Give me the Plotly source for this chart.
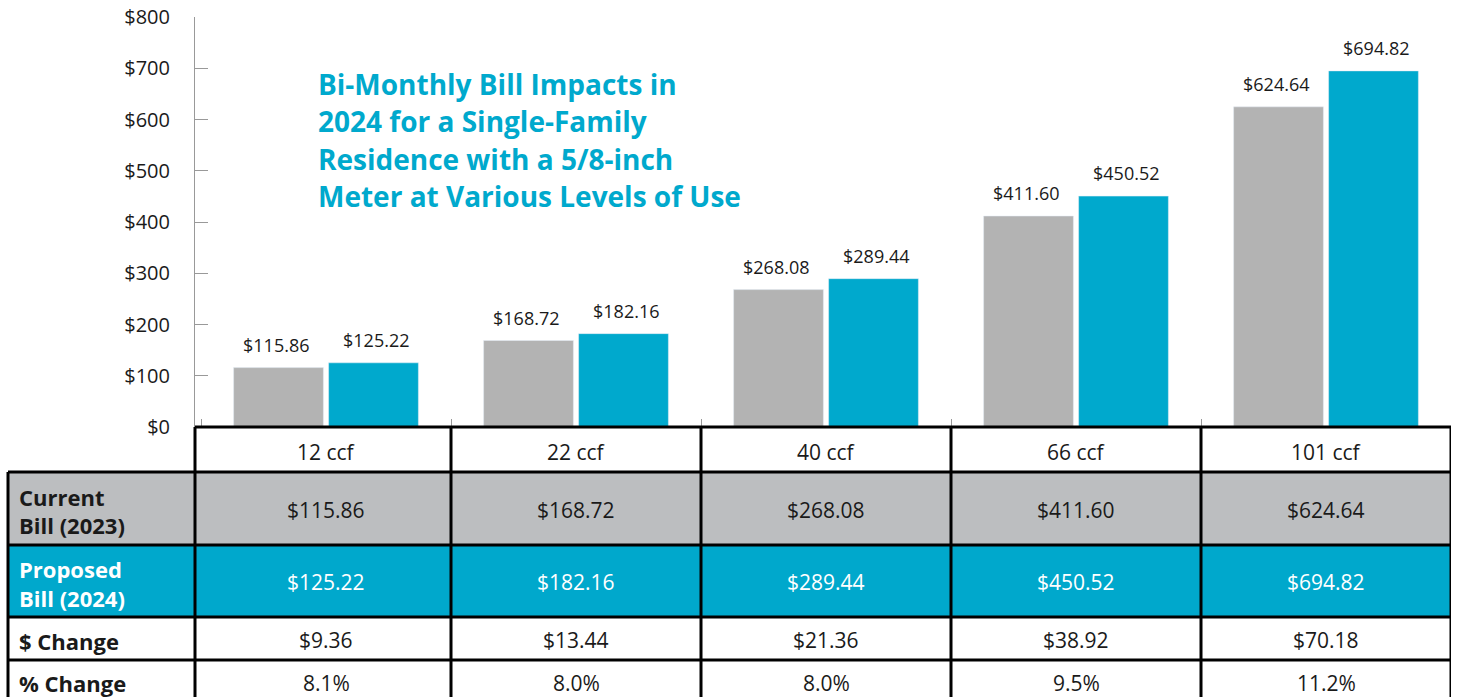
import plotly.graph_objects as go

# ---------------- data ----------------
categories = ["12 ccf", "22 ccf", "40 ccf", "66 ccf", "101 ccf"]
current_bill = [115.86, 168.72, 268.08, 411.60, 624.64]
proposed_bill = [125.22, 182.16, 289.44, 450.52, 694.82]
dollar_change = [9.36, 13.44, 21.36, 38.92, 70.18]
pct_change = [8.1, 8.0, 8.0, 9.5, 11.2]
row_labels = [["Current", "Bill (2023)"], ["Proposed", "Bill (2024)"], ["$ Change"], ["% Change"]]
title_lines = ["Bi-Monthly Bill Impacts in", "2024 for a Single-Family",
               "Residence with a 5/8-inch", "Meter at Various Levels of Use"]
y_ticks = [0, 100, 200, 300, 400, 500, 600, 700, 800]
y_tick_text = ["$0", "$100", "$200", "$300", "$400", "$500", "$600", "$700", "$800"]

# ---------------- style ----------------
W, H = 1459, 697
PL, PR, PT, PB = 195, 1451, 17, 427   # plot area in page pixels
FONT = "Open Sans"
GRAY_BAR = "#b3b3b3"
TEAL = "#00a9cd"
GRAY_ROW = "#bcbec0"
TEAL_ROW = "#00a8cc"
TXT = "#1a1a1a"


def px(X):
    return (X - PL) / (PR - PL)


def py(Y):
    return (PB - Y) / (PB - PT)


fig = go.Figure()
fig.add_trace(go.Bar(x=categories, y=current_bill, marker_color=GRAY_BAR,
                     name="Current Bill (2023)"))
fig.add_trace(go.Bar(x=categories, y=proposed_bill, marker_color=TEAL,
                     name="Proposed Bill (2024)"))

shapes = []
annotations = []

# bar value labels
for c, v1, v2 in zip(categories, current_bill, proposed_bill):
    for v, xs in ((v1, -50), (v2, 50)):
        annotations.append(dict(x=c, y=v, xref="x", yref="y", text=f"${v:,.2f}",
                                showarrow=False, xshift=xs, yshift=23, yanchor="middle",
                                font=dict(family=FONT, size=18, color=TXT)))

# table rows (page pixel y)
row_tops = [427, 472, 545, 617, 660]
row_bots = [472, 545, 617, 660, 720]
fills = [None, GRAY_ROW, TEAL_ROW, None, None]
TL = 8  # left edge of table

for i in range(1, 5):
    if fills[i]:
        shapes.append(dict(type="rect", xref="paper", yref="paper",
                           x0=px(TL), x1=px(PR), y0=py(row_bots[i]), y1=py(row_tops[i]),
                           fillcolor=fills[i], line_width=0, layer="below"))

LW = 3
shapes.append(dict(type="line", xref="paper", yref="paper", x0=px(PL), x1=px(PR),
                   y0=py(427), y1=py(427), line=dict(color="black", width=LW)))
for Y in [472, 545, 617, 660]:
    shapes.append(dict(type="line", xref="paper", yref="paper", x0=px(TL), x1=px(PR),
                       y0=py(Y), y1=py(Y), line=dict(color="black", width=LW)))
shapes.append(dict(type="line", xref="paper", yref="paper", x0=px(TL), x1=px(TL),
                   y0=py(472), y1=py(720), line=dict(color="black", width=LW)))
shapes.append(dict(type="line", xref="paper", yref="paper", x0=0, x1=0,
                   y0=py(427), y1=py(720), line=dict(color="black", width=LW)))
for i in range(1, len(categories) + 1):
    shapes.append(dict(type="line", xref="x", yref="paper", x0=i - 0.5, x1=i - 0.5,
                       y0=py(427), y1=py(720), line=dict(color="black", width=LW)))


def cell(c, yc, text, color):
    return dict(x=c, xref="x", yref="paper", y=py(yc), yanchor="middle", text=text,
                showarrow=False, font=dict(family=FONT, size=21, color=color))


for i, c in enumerate(categories):
    annotations.append(cell(c, 452, c, TXT))
    annotations.append(cell(c, 510, f"${current_bill[i]:,.2f}", TXT))
    annotations.append(cell(c, 582, f"${proposed_bill[i]:,.2f}", "white"))
    annotations.append(cell(c, 640, f"${dollar_change[i]:,.2f}", TXT))
    annotations.append(cell(c, 683, f"{pct_change[i]:.1f}%", TXT))

row_line_y = [[497, 525], [569, 598], [641], [683]]
row_colors = [TXT, "white", TXT, TXT]
for lines, ys, col in zip(row_labels, row_line_y, row_colors):
    for line, yc in zip(lines, ys):
        annotations.append(dict(x=px(17), xref="paper", xanchor="left", yref="paper",
                                y=py(yc), yanchor="middle", text=f"<b>{line}</b>",
                                showarrow=False, font=dict(family=FONT, size=22, color=col)))

for k, line in enumerate(title_lines):
    annotations.append(dict(x=px(316), xref="paper", xanchor="left", yref="paper",
                            y=py(84 + 37.4 * k), yanchor="middle", text=f"<b>{line}</b>",
                            showarrow=False, font=dict(family=FONT, size=28, color=TEAL)))

fig.update_layout(
    width=W, height=H,
    margin=dict(l=PL, r=W - PR, t=PT, b=H - PB, autoexpand=False),
    paper_bgcolor="white", plot_bgcolor="white",
    barmode="group", bargap=0.24, bargroupgap=0.055,
    showlegend=False,
    shapes=shapes, annotations=annotations,
    xaxis=dict(type="category", range=[-0.524, 4.5], showticklabels=False,
               tickson="boundaries", ticks="inside", ticklen=8, tickcolor="#999999",
               showline=False, showgrid=False, zeroline=False),
    yaxis=dict(range=[0, 800], tickvals=y_ticks, ticktext=y_tick_text, ticks="inside",
               ticklen=13, tickcolor="#999999", showline=True, linecolor="#999999",
               linewidth=1, showgrid=False, zeroline=False, ticklabelstandoff=20,
               ticklabeloverflow="allow",
               tickfont=dict(family=FONT, size=20, color=TXT)),
)

fig.write_html("out.html", config={"displayModeBar": False},
               post_script="document.body.style.margin='0';")
